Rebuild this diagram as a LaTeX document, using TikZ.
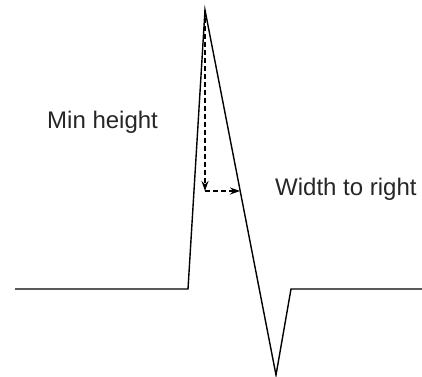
\documentclass[tikz,border=0pt]{standalone}
\usepackage{fontspec}
\setmainfont{Liberation Sans}
\usetikzlibrary{arrows.meta}

\begin{document}
\begin{tikzpicture}[x=1pt, y=-1pt, font=\fontsize{24}{28}\selectfont,
    measure/.style={dash pattern=on 5pt off 3pt, line width=1.2pt, -{Stealth[length=10pt, width=7pt]}}]
  \useasboundingbox (0,0) rectangle (422,376);
  % pulse outline
  \coordinate (start) at (15,289);
  \coordinate (rise) at (188,289);
  \coordinate (peak) at (205,10);
  \coordinate (trough) at (276,375);
  \coordinate (back) at (291,289);
  \coordinate (stop) at (422,289);
  \draw[line width=1.4pt, line join=miter] (start) -- (rise) -- (peak) -- (trough) -- (back) -- (stop);

  % measuring arrows
  \coordinate (corner) at (205,191);
  \coordinate (edge) at (240,191);
  \draw[measure] (peak) -- (corner);
  \draw[measure] (corner) -- (edge);

  % labels
  \node[anchor=base west, inner sep=0pt, text=black!85] (minh) at (47,128) {Min height};
  \node[anchor=base west, inner sep=0pt, text=black!85] (wright) at (275,195) {Width to right};
\end{tikzpicture}
\end{document}
